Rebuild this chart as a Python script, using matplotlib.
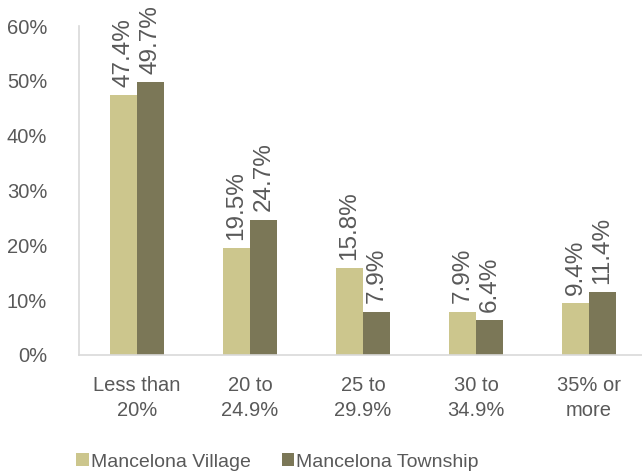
import numpy as np
import matplotlib.pyplot as plt

plt.rcParams['font.family'] = ['Liberation Sans', 'DejaVu Sans']

# Datos
categorias = ['Less than\n20%', '20 to\n24.9%', '25 to\n29.9%', '30 to\n34.9%', '35% or\nmore']
village = [47.4, 19.5, 15.8, 7.9, 9.4]
township = [49.7, 24.7, 7.9, 6.4, 11.4]
series = ['Mancelona Village', 'Mancelona Township']

gris = '#595959'
color_village = '#CCC68D'
color_township = '#7B7757'

fig = plt.figure(figsize=(6.42, 4.74), dpi=100)
ax = fig.add_axes([0.1231, 0.2511, 0.8800, 0.6940])

x = np.arange(len(categorias))
ancho = 0.24

b1 = ax.bar(x - ancho/2, village, ancho, color=color_village, label=series[0])
b2 = ax.bar(x + ancho/2, township, ancho, color=color_township, label=series[1])

# Etiquetas de las barras
for barras in (b1, b2):
	for b in barras:
		ax.annotate(f'{b.get_height():.1f}%',
			(b.get_x() + b.get_width()/2, b.get_height()),
			xytext=(0, 6), textcoords='offset points',
			ha='center', va='bottom', rotation=90,
			fontsize=17.5, color=gris)

ax.set_ylim(0, 60)
ax.set_xlim(-0.513, 4.487)
ax.set_yticks(range(0, 61, 10))
ax.set_yticklabels([f'{v}%' for v in range(0, 61, 10)])
ax.set_xticks(x)
ax.set_xticklabels(categorias, linespacing=1.4)
ax.tick_params(axis='both', length=0, labelsize=14.5, labelcolor=gris)
ax.tick_params(axis='y', pad=23)
ax.tick_params(axis='x', pad=15)

for s in ('top', 'right'):
	ax.spines[s].set_visible(False)
for s in ('left', 'bottom'):
	ax.spines[s].set_color('#D9D9D9')
	ax.spines[s].set_linewidth(1.2)

ax.legend(loc='center', bbox_to_anchor=(0.432, 0.025), bbox_transform=fig.transFigure,
	ncol=2, frameon=False, fontsize=14, labelcolor=gris,
	handlelength=0.65, handleheight=0.65, handletextpad=0.1, columnspacing=1.6)

fig.savefig('out.png', dpi=100)
